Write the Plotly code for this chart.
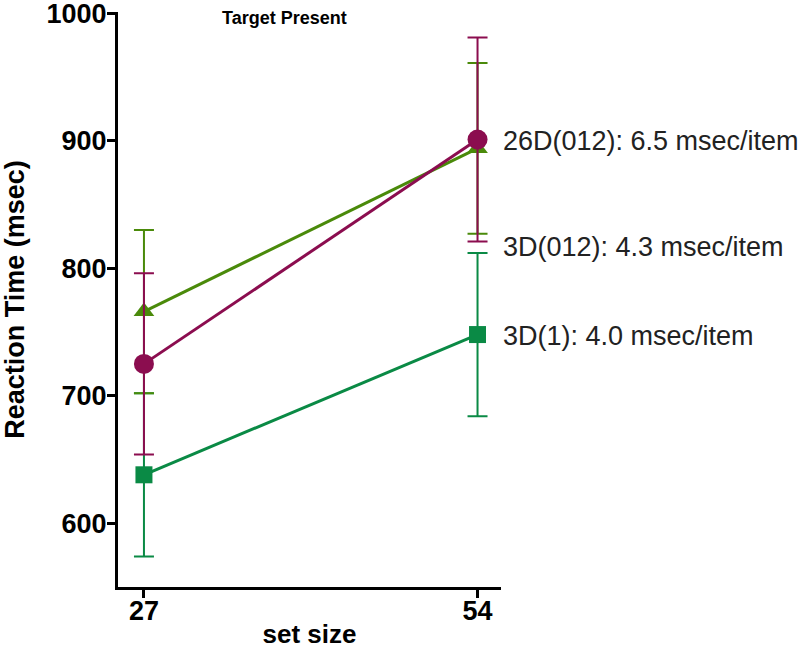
import plotly.graph_objects as go

set_sizes = [27, 54]

names = ["3D(1)", "3D(012)", "26D(012)"]
rt_3d1 = [638, 748]
err_3d1 = [64, 64]
rt_3d012 = [766, 894]
err_3d012 = [64, 67]
rt_26d012 = [725, 901]
err_26d012 = [71, 80]

label_texts = ["26D(012): 6.5 msec/item", "3D(012): 4.3 msec/item", "3D(1): 4.0 msec/item"]
label_y = [900, 817, 747]

colors = ["#0A8A45", "#4A8A0A", "#8B0D4F"]
symbols = ["square", "triangle-up", "circle"]
sizes = [17, 18, 20]

fig = go.Figure()
series = [(rt_3d1, err_3d1), (rt_3d012, err_3d012), (rt_26d012, err_26d012)]
for (vals, errs), name, c, s, sz in zip(series, names, colors, symbols, sizes):
    fig.add_trace(go.Scatter(
        x=set_sizes, y=vals, name=name, mode="lines+markers",
        line=dict(color=c, width=3),
        marker=dict(symbol=s, size=sz, color=c),
        error_y=dict(type="data", array=errs, visible=True, color=c, thickness=2, width=10),
        cliponaxis=False,
    ))

for t, yv in zip(label_texts, label_y):
    fig.add_annotation(x=set_sizes[1], y=yv, xref="x", yref="y", text=t,
                       showarrow=False, xanchor="left", xshift=23,
                       font=dict(family="Liberation Sans", size=27, color="#222"))

fig.add_annotation(x=0.435, y=1.0, xref="paper", yref="paper", text="Target Present",
                   showarrow=False, xanchor="center", yanchor="top", yshift=6,
                   font=dict(family="Liberation Sans", size=18, color="black", weight="bold"))

fig.update_layout(
    width=800, height=660,
    margin=dict(l=118, r=299, t=12, b=73, autoexpand=False),
    paper_bgcolor="white", plot_bgcolor="white",
    showlegend=False,
    font=dict(family="Liberation Sans", color="black"),
)
fig.update_xaxes(
    range=[24.9, 55.9], tickvals=set_sizes, ticktext=[str(v) for v in set_sizes],
    showline=True, linecolor="black", linewidth=3, showgrid=False, zeroline=False,
    ticks="outside", ticklen=8, tickwidth=3, tickcolor="black", automargin=False,
    ticklabelstandoff=-10, ticklabeloverflow="allow",
    tickfont=dict(size=27, weight="bold", family="Liberation Sans"),
    title=dict(text="set size", font=dict(size=26, weight="bold", family="Liberation Sans"), standoff=0),
)
fig.update_yaxes(
    range=[550, 1001], tickvals=[600, 700, 800, 900, 1000],
    showline=True, linecolor="black", linewidth=3, showgrid=False, zeroline=False,
    ticks="outside", ticklen=8, tickwidth=3, tickcolor="black", automargin=False,
    ticklabelstandoff=-5, ticklabeloverflow="allow",
    tickfont=dict(size=27, weight="bold", family="Liberation Sans"),
    title=dict(text="Reaction Time (msec)", font=dict(size=27, weight="bold", family="Liberation Sans"), standoff=22),
)

fig.write_html("out.html", config={"displayModeBar": False},
               post_script="document.body.style.margin='0';")
